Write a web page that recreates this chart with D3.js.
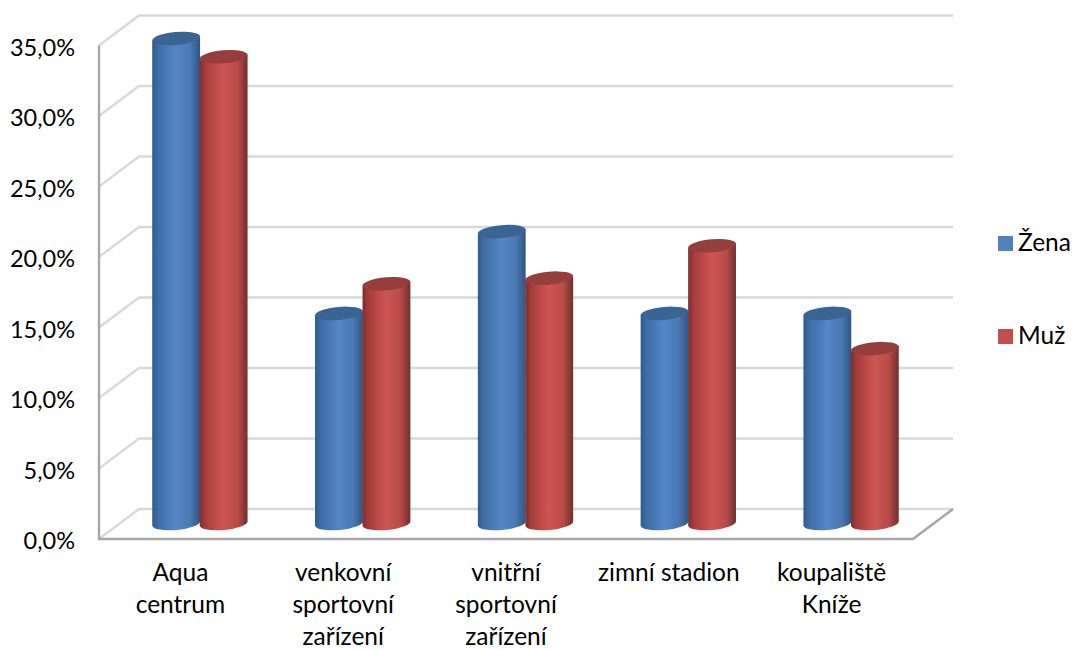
<!doctype html>
<html>
<head>
<style>
    html, body { margin: 0; background: #fff; }
    svg { display: block; }
    text { font-family: Lato, "Open Sans", sans-serif; fill: #000; }
</style>
<script src="https://d3js.org/d3.v7.min.js"></script>
</head>
<body>
<svg width="1073" height="650"></svg>
<script>
    var categories = ["Aqua centrum", "venkovní sportovní zařízení", "vnitřní sportovní zařízení", "zimní stadion", "koupaliště Kníže"];
    var categoryLines = [["Aqua", "centrum"], ["venkovní", "sportovní", "zařízení"], ["vnitřní", "sportovní", "zařízení"], ["zimní stadion"], ["koupaliště", "Kníže"]];
    var zena = [34.4, 14.9, 20.7, 14.9, 14.9];
    var muz = [33.1, 17.0, 17.4, 19.7, 12.4];
    var seriesNames = ["Žena", "Muž"];
    var tickValues = [0, 5, 10, 15, 20, 25, 30, 35];

    var svg = d3.select("svg");

    // plot box: front edge of the floor plus the depth offset to the back wall
    var plotLeft = 99, plotRight = 913, plotBottom = 539, plotTop = 45.5;
    var depthX = 40, depthY = 30;

    var x = d3.scaleBand().domain(categories).range([plotLeft, plotRight]);
    var xSeries = d3.scaleBand().domain(seriesNames).range([-47.5, 47.5]);
    var y = d3.scaleLinear().domain([0, 35]).range([plotBottom, plotTop]);

    // gradients for the cylinder shading
    var defs = svg.append("defs");
    function gradient(id, stops) {
        var g = defs.append("linearGradient").attr("id", id);
        stops.forEach(function(s) {
            g.append("stop").attr("offset", s[0]).attr("stop-color", s[1]);
        });
    }
    gradient("bodyZena", [[0, "#2f5a8c"], [0.12, "#3d6ca6"], [0.5, "#5586c6"], [0.8, "#4a78b2"], [1, "#2f5682"]]);
    gradient("bodyMuz", [[0, "#7c2f2d"], [0.14, "#a83f3c"], [0.5, "#ce5654"], [0.8, "#b84a47"], [1, "#6e302e"]]);
    var bodyFill = { "Žena": "url(#bodyZena)", "Muž": "url(#bodyMuz)" };
    var capFill = { "Žena": "#3a6493", "Muž": "#953e3b" };
    var legendFill = { "Žena": "#4f81bd", "Muž": "#c0504d" };

    // back wall gridlines with their diagonal returns to the front axis
    var grid = svg.append("g").attr("fill", "none").attr("stroke", "#d9d9d9").attr("stroke-width", 2.4);
    grid.selectAll("path")
        .data(tickValues)
        .enter().append("path")
        .attr("d", function(d) {
            return "M" + plotLeft + "," + y(d) + "L" + (plotLeft + depthX) + "," + (y(d) - depthY) + "L" + (plotRight + depthX) + "," + (y(d) - depthY);
        });

    // axes
    var axes = svg.append("g").attr("fill", "none").attr("stroke", "#a6a6a6").attr("stroke-width", 2.4);
    axes.append("path")
        .attr("d", "M" + plotLeft + "," + plotTop + "L" + plotLeft + "," + plotBottom + "L" + plotRight + "," + plotBottom + "L" + (plotRight + depthX) + "," + (plotBottom - depthY));

    // y tick labels
    svg.append("g").selectAll("text")
        .data(tickValues)
        .enter().append("text")
        .attr("x", 75)
        .attr("y", function(d) { return y(d) + 10; })
        .attr("text-anchor", "end")
        .attr("font-size", "23.5px")
        .text(function(d) { return d.toFixed(1).replace(".", ",") + "%"; });

    // category labels
    var labels = svg.append("g").selectAll("text")
        .data(categories)
        .enter().append("text")
        .attr("text-anchor", "middle")
        .attr("font-size", "24.5px");
    labels.each(function(d, i) {
        d3.select(this).selectAll("tspan")
            .data(categoryLines[i])
            .enter().append("tspan")
            .attr("x", x(d) + x.bandwidth() / 2)
            .attr("y", function(l, j) { return 581 + j * 32; })
            .text(function(l) { return l; });
    });

    // one cylinder: tilted elliptical base and cap joined by straight sides
    var rx = 24, ry = 6.5, tilt = -5;
    var dx = rx * Math.cos(tilt * Math.PI / 180), dy = rx * Math.sin(tilt * Math.PI / 180);
    var floorOffset = 15.5;

    function cylinder(parent, name, cx, v) {
        var cy = y(v) - floorOffset, floorY = y(0) - floorOffset;
        parent.append("path")
            .attr("fill", bodyFill[name])
            .attr("d", "M" + (cx - dx) + "," + (cy - dy) +
                "L" + (cx - dx) + "," + (floorY - dy) +
                "A" + rx + "," + ry + " " + tilt + " 0 0 " + (cx + dx) + "," + (floorY + dy) +
                "L" + (cx + dx) + "," + (cy + dy) + "Z");
        parent.append("ellipse")
            .attr("fill", capFill[name])
            .attr("rx", rx)
            .attr("ry", ry)
            .attr("transform", "translate(" + cx + "," + cy + ") rotate(" + tilt + ")");
    }

    var bars = svg.append("g");
    categories.forEach(function(c, i) {
        var center = x(c) + x.bandwidth() / 2 + depthX / 2 - 0.5;
        cylinder(bars, "Žena", center + xSeries("Žena") + xSeries.bandwidth() / 2, zena[i]);
        cylinder(bars, "Muž", center + xSeries("Muž") + xSeries.bandwidth() / 2, muz[i]);
    });

    // legend
    var legend = svg.append("g").selectAll("g")
        .data(seriesNames)
        .enter().append("g")
        .attr("transform", function(d, i) { return "translate(998," + (236 + i * 93) + ")"; });
    legend.append("rect")
        .attr("width", 15)
        .attr("height", 15)
        .attr("fill", function(d) { return legendFill[d]; });
    legend.append("text")
        .attr("x", 20)
        .attr("y", 15)
        .attr("font-size", "24.5px")
        .text(function(d) { return d; });
</script>
</body>
</html>
